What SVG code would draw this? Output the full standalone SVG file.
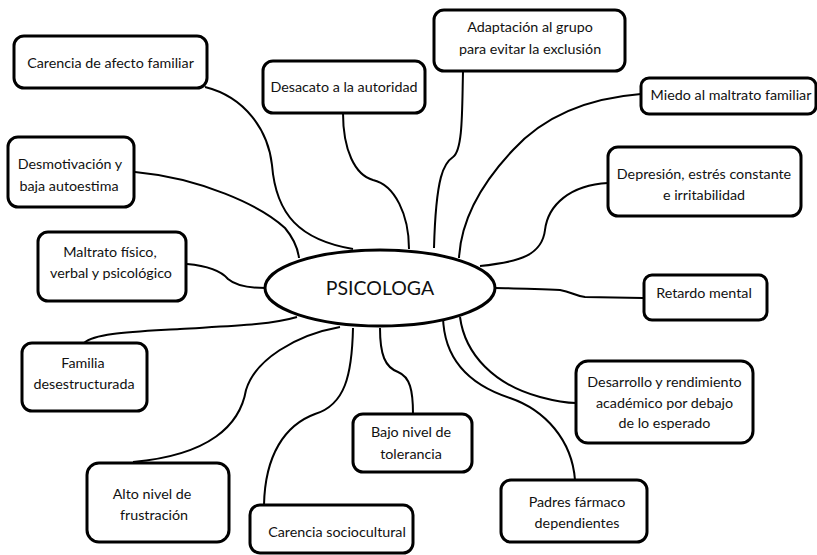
<svg xmlns="http://www.w3.org/2000/svg" width="817" height="555" viewBox="0 0 817 555">
<style>
  .box { fill: #fff; stroke: #000; stroke-width: 3; }
  .lbl { font-family: Lato, "Liberation Sans", sans-serif; font-size: 14.3px; fill: #111; text-anchor: middle; }
  .ctr { font-family: Lato, "Liberation Sans", sans-serif; font-size: 19.5px; fill: #111; text-anchor: middle; }
  .con { fill: none; stroke: #000; stroke-width: 2; }
</style>
<rect width="817" height="555" fill="#fff"/>
<g id="connectors">
  <path class="con" d="M205,87 C245,97 268,130 272,165 C276,215 300,240 353,249"/>
  <path class="con" d="M135,172 C200,178 260,205 285,228 C295,240 298,250 299,258"/>
  <path class="con" d="M343,113 C343,150 355,175 373,180 C395,185 409,215 409,249"/>
  <path class="con" d="M463,72 C462,110 463,150 453,157 C444,163 436,175 434,248"/>
  <path class="con" d="M641,94 C590,98 545,115 513,150 C480,185 461,220 459,258"/>
  <path class="con" d="M608,183 C570,185 548,205 545,230 C542,255 520,262 480,266"/>
  <path class="con" d="M643,298 L585,297 C575,296 572,292 560,290 C530,289 510,288 495,288"/>
  <path class="con" d="M460,317 C465,355 495,385 540,397 C555,401 565,403 576,403"/>
  <path class="con" d="M443,317 C444,360 470,385 510,398 C545,410 572,440 575,480"/>
  <path class="con" d="M380,328 C380,355 385,367 398,372 C410,377 413,390 413,414"/>
  <path class="con" d="M353,328 C352,375 345,405 315,414 C285,425 265,455 264,505"/>
  <path class="con" d="M340,327 C295,335 255,360 246,390 C240,425 210,455 133,462"/>
  <path class="con" d="M84,343 C95,333 130,332 180,329 C230,326 270,325 297,317"/>
  <path class="con" d="M187,264 C210,266 222,272 228,279 C236,286 250,288 266,288"/>
</g>
<g id="center">
  <ellipse class="box" cx="380" cy="288" rx="115" ry="38"/>
  <text class="ctr" x="380" y="295">PSICOLOGA</text>
</g>
<g id="n1">
  <rect class="box" x="14" y="36" width="193" height="52" rx="10"/>
  <text class="lbl" x="110.5" y="68">Carencia de afecto familiar</text>
</g>
<g id="n2">
  <rect class="box" x="263" y="61" width="162" height="52" rx="10"/>
  <text class="lbl" x="344" y="92">Desacato a la autoridad</text>
</g>
<g id="n3">
  <rect class="box" x="434" y="10" width="191" height="61" rx="10"/>
  <text class="lbl" x="530" y="32">Adaptación al grupo</text>
  <text class="lbl" x="530" y="54">para evitar la exclusión</text>
</g>
<g id="n4">
  <rect class="box" x="641" y="78" width="175" height="36" rx="8"/>
  <text class="lbl" x="731" y="100">Miedo al maltrato familiar</text>
</g>
<g id="n5">
  <rect class="box" x="608" y="147" width="193" height="69" rx="10"/>
  <text class="lbl" x="704" y="179">Depresión, estrés constante</text>
  <text class="lbl" x="704" y="200">e irritabilidad</text>
</g>
<g id="n6">
  <rect class="box" x="644" y="275" width="123" height="45" rx="8"/>
  <text class="lbl" x="704" y="298">Retardo mental</text>
</g>
<g id="n7">
  <rect class="box" x="576" y="361" width="177" height="82" rx="12"/>
  <text class="lbl" x="664.5" y="387">Desarrollo y rendimiento</text>
  <text class="lbl" x="664.5" y="408">académico por debajo</text>
  <text class="lbl" x="664.5" y="428">de lo esperado</text>
</g>
<g id="n8">
  <rect class="box" x="501" y="480" width="146" height="62" rx="10"/>
  <text class="lbl" x="577" y="507">Padres fármaco</text>
  <text class="lbl" x="577" y="528">dependientes</text>
</g>
<g id="n9">
  <rect class="box" x="353" y="414" width="119" height="58" rx="10"/>
  <text class="lbl" x="411" y="437">Bajo nivel de</text>
  <text class="lbl" x="411" y="459">tolerancia</text>
</g>
<g id="n10">
  <rect class="box" x="250" y="505" width="163" height="48" rx="10"/>
  <text class="lbl" x="337" y="537">Carencia sociocultural</text>
</g>
<g id="n11">
  <rect class="box" x="87" y="463" width="142" height="79" rx="12"/>
  <text class="lbl" x="152" y="499">Alto nivel de</text>
  <text class="lbl" x="154" y="520">frustración</text>
</g>
<g id="n12">
  <rect class="box" x="22" y="343" width="125" height="68" rx="10"/>
  <text class="lbl" x="83" y="368">Familia</text>
  <text class="lbl" x="84" y="389">desestructurada</text>
</g>
<g id="n13">
  <rect class="box" x="38" y="232" width="148" height="69" rx="10"/>
  <text class="lbl" x="110" y="257">Maltrato físico,</text>
  <text class="lbl" x="111" y="278">verbal y psicológico</text>
</g>
<g id="n14">
  <rect class="box" x="8" y="137" width="126" height="70" rx="10"/>
  <text class="lbl" x="70" y="169">Desmotivación y</text>
  <text class="lbl" x="69" y="191">baja autoestima</text>
</g>
</svg>
